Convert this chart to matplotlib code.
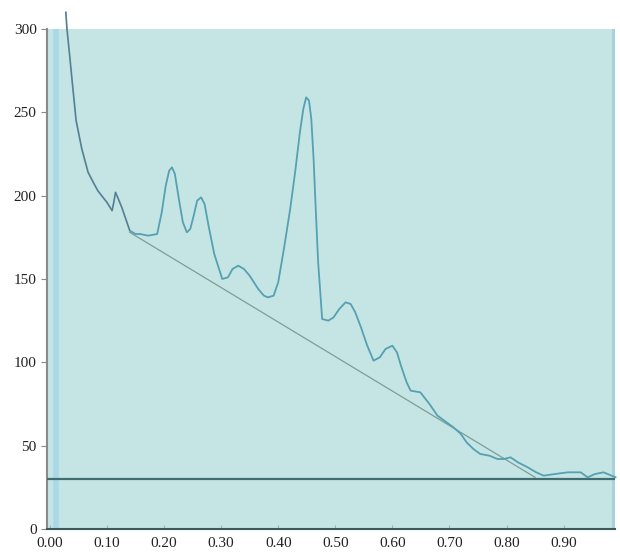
import matplotlib
matplotlib.use("Agg")
import matplotlib.pyplot as plt

# spectrum trace
x_curve = [0.028, 0.030, 0.035, 0.039, 0.046, 0.056, 0.067, 0.076, 0.084, 0.093, 0.100,
           0.109, 0.112, 0.115, 0.120, 0.126, 0.133, 0.140, 0.150, 0.158, 0.172, 0.188,
           0.196, 0.203, 0.209, 0.214, 0.219, 0.226, 0.233, 0.240, 0.246, 0.252, 0.258,
           0.265, 0.271, 0.278, 0.288, 0.302, 0.312, 0.320, 0.330, 0.340, 0.350, 0.365,
           0.375, 0.382, 0.392, 0.400, 0.410, 0.421, 0.430, 0.438, 0.444, 0.449, 0.454,
           0.458, 0.462, 0.466, 0.470, 0.477, 0.488, 0.497, 0.507, 0.518, 0.527, 0.535,
           0.545, 0.556, 0.567, 0.578, 0.588, 0.600, 0.608, 0.616, 0.625, 0.632, 0.649,
           0.665, 0.679, 0.695, 0.707, 0.720, 0.730, 0.742, 0.754, 0.770, 0.784, 0.795,
           0.807, 0.820, 0.837, 0.852, 0.865, 0.885, 0.907, 0.930, 0.942, 0.955, 0.970,
           0.991]
y_curve = [310, 300, 283, 269, 245, 228, 214, 208, 203, 199, 196,
           191, 196, 202, 198, 193, 186, 179, 177, 177, 176, 177,
           190, 206, 215, 217, 213, 198, 184, 178, 180, 188, 197,
           199, 195, 182, 165, 150, 151, 156, 158, 156, 152, 144,
           140, 139, 140, 148, 168, 192, 215, 238, 252, 259, 257,
           246, 222, 190, 160, 126, 125, 127, 132, 136, 135, 130,
           121, 110, 101, 103, 108, 110, 106, 97, 88, 83, 82,
           75, 68, 64, 61, 57, 52, 48, 45, 44, 42, 42,
           43, 40, 37, 34, 32, 33, 34, 34, 31, 33, 34,
           31]

# background (baseline) segment and threshold
x_base = [0.140, 0.850]
y_base = [178, 31]
threshold = 30

x_ticks = [0.0, 0.1, 0.2, 0.3, 0.4, 0.5, 0.6, 0.7, 0.8, 0.9]
x_labels = ["0.00", "0.10", "0.20", "0.30", "0.40", "0.50", "0.60", "0.70", "0.80", "0.90"]
y_ticks = [0, 50, 100, 150, 200, 250, 300]

plt.rcParams['font.family'] = ['Liberation Serif', 'DejaVu Serif']

fig = plt.figure(figsize=(6.2, 5.56), dpi=100)
ax = fig.add_axes([47 / 620, 1 - 529 / 556, 568 / 620, 500 / 556])
ax.set_facecolor('#c5e5e5')

# light blue stripes at the edges
ax.axvline(0.01, color='#a9d9e9', lw=4, zorder=1)
ax.axvline(0.987, color='#a8cfdc', lw=2, zorder=1)

ax.plot(x_base, y_base, color='#7d9d96', lw=0.9, zorder=2)
ax.axhline(threshold, color='#3f6d72', lw=1.6, zorder=3)
ax.plot(x_curve, y_curve, color='#55a0b2', lw=1.3, zorder=4, clip_on=False)
# darker overlap at the steep start
ax.plot(x_curve[:18], y_curve[:18], color='#6a5868', lw=0.7, alpha=0.6, zorder=5, clip_on=False)

ax.set_xlim(-0.005, 0.99)
ax.set_ylim(0, 300)
ax.set_xticks(x_ticks)
ax.set_xticklabels(x_labels)
ax.set_yticks(y_ticks)
ax.tick_params(axis='both', labelsize=11, colors='#222222')
ax.tick_params(axis='x', direction='in', length=3, color='#aaaaaa', pad=6)
ax.tick_params(axis='y', direction='out', length=4, color='#888888')

for s in ['top', 'right']:
    ax.spines[s].set_visible(False)
ax.spines['left'].set_color('#8a8a8a')
ax.spines['left'].set_linewidth(1.5)
ax.spines['bottom'].set_color('#3c5a5a')
ax.spines['bottom'].set_linewidth(1.5)

fig.savefig('out.png', dpi=100)
